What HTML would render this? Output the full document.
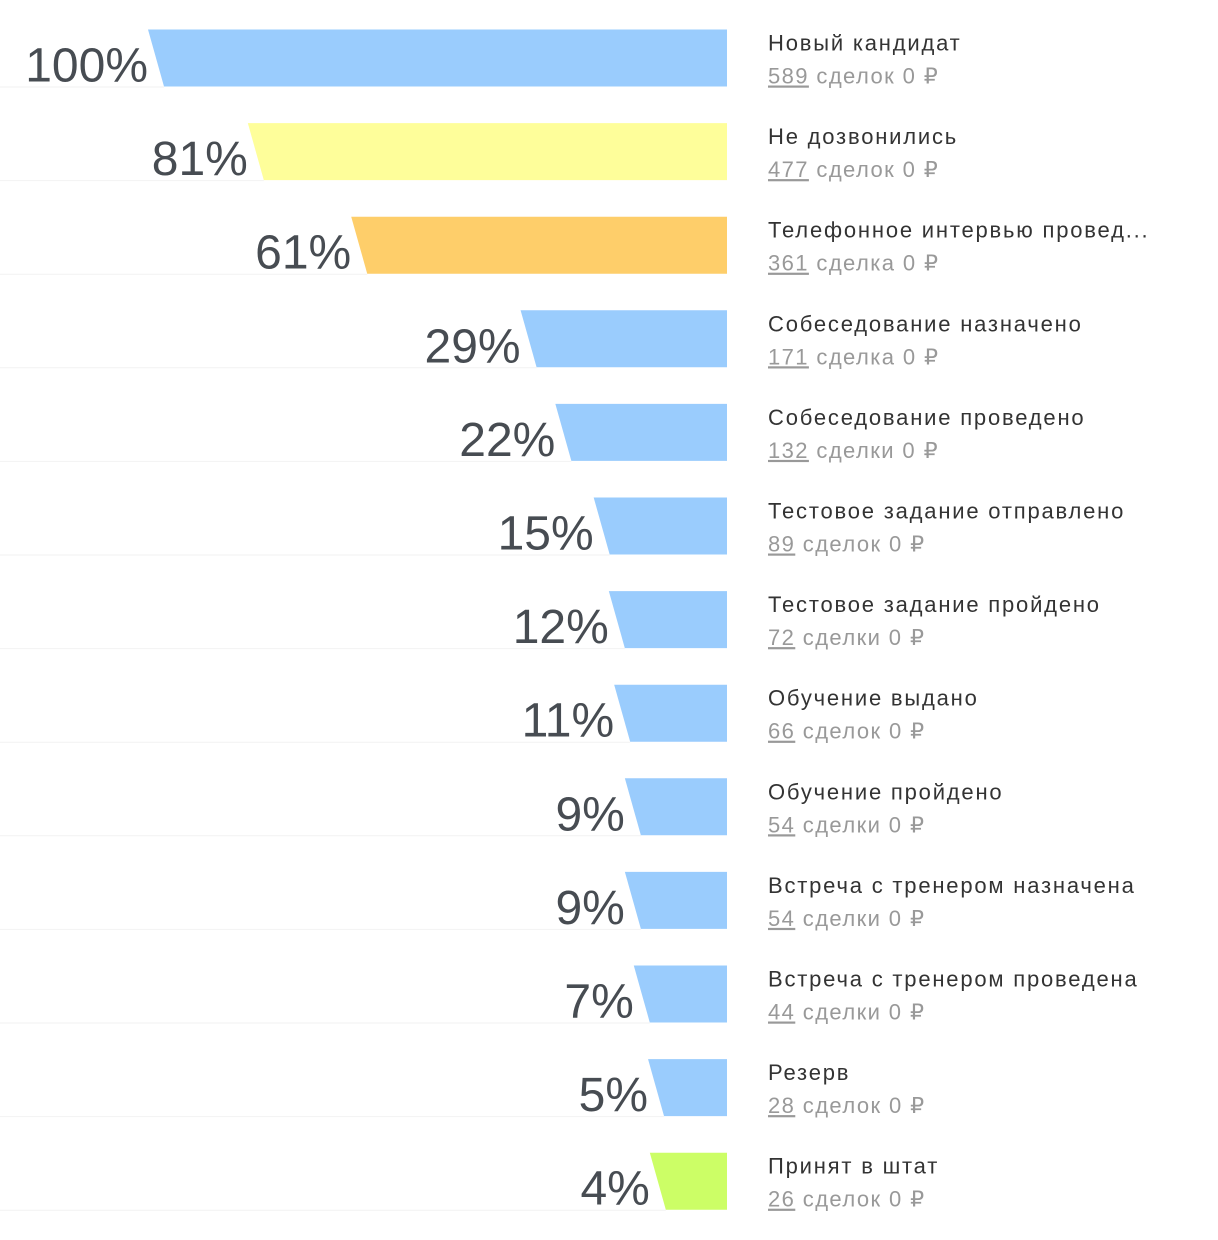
<!DOCTYPE html>
<html><head><meta charset="utf-8">
<style>
html,body{margin:0;padding:0;background:#fff;width:1218px;height:1240px;overflow:hidden;}
svg text{font-family:"Liberation Sans","Noto Sans CJK SC",sans-serif;}
</style></head>
<body>
<svg id="chart" width="1218" height="1240" xmlns="http://www.w3.org/2000/svg"></svg>
<script>
const stages = ["Новый кандидат","Не дозвонились","Телефонное интервью провед...","Собеседование назначено","Собеседование проведено","Тестовое задание отправлено","Тестовое задание пройдено","Обучение выдано","Обучение пройдено","Встреча с тренером назначена","Встреча с тренером проведена","Резерв","Принят в штат"];
const counts = [589,477,361,171,132,89,72,66,54,54,44,28,26];
const dealWords = ["сделок","сделок","сделка","сделка","сделки","сделок","сделки","сделок","сделки","сделки","сделки","сделок","сделок"];
const colors = ["#9accfd","#fefe9a","#fece6a","#9accfd","#9accfd","#9accfd","#9accfd","#9accfd","#9accfd","#9accfd","#9accfd","#9accfd","#ccfe66"];

const svg = document.getElementById('chart');
const NS = "http://www.w3.org/2000/svg";
const right = 727, top0 = 29.5, pitch = 93.6, barH = 57, slant = 16;
const maxC = Math.max(...counts);
function pct(i){ return Math.round(counts[i]/maxC*100); }
function barWidth(i){ return 54 + 5.25*(counts[i]/maxC*100); }
function rowY(i){ return top0 + i*pitch; }
function mk(tag, attrs){ const e=document.createElementNS(NS,tag); for(const k in attrs) e.setAttribute(k,attrs[k]); svg.appendChild(e); return e; }

stages.forEach((s,i)=>{
  const y = rowY(i), left = right - barWidth(i);
  const ln = mk('line',{x1:0,x2:left+slant,y1:y+barH+0.5,y2:y+barH+0.5,stroke:'#f2f2f2','stroke-width':1});
  
  
  const p = mk('polygon',{points:`${left},${y} ${right},${y} ${right},${y+barH} ${left+slant},${y+barH}`,fill:colors[i]});
  
  
  const t = mk('text',{x:left,y:y+52,'text-anchor':'end','font-size':48,fill:'#474c52'});
  t.textContent = pct(i)+'%';
  
  
  const title = mk('text',{x:768,y:y+21,'font-size':22,fill:'#333','letter-spacing':'1.8px'});
  title.textContent = s;
  
  
  const sub = mk('text',{x:768,y:y+54,'font-size':22,fill:'#999','letter-spacing':'1.4px'});
  const num = document.createElementNS(NS,'tspan');
  num.setAttribute('text-decoration','underline');
  num.textContent = counts[i];
  
  
  sub.appendChild(num);
  const rest = document.createElementNS(NS,'tspan');
  rest.textContent = ' '+dealWords[i]+' 0 ₽';
  sub.appendChild(rest);
  
  
});
</script>
</body></html>
